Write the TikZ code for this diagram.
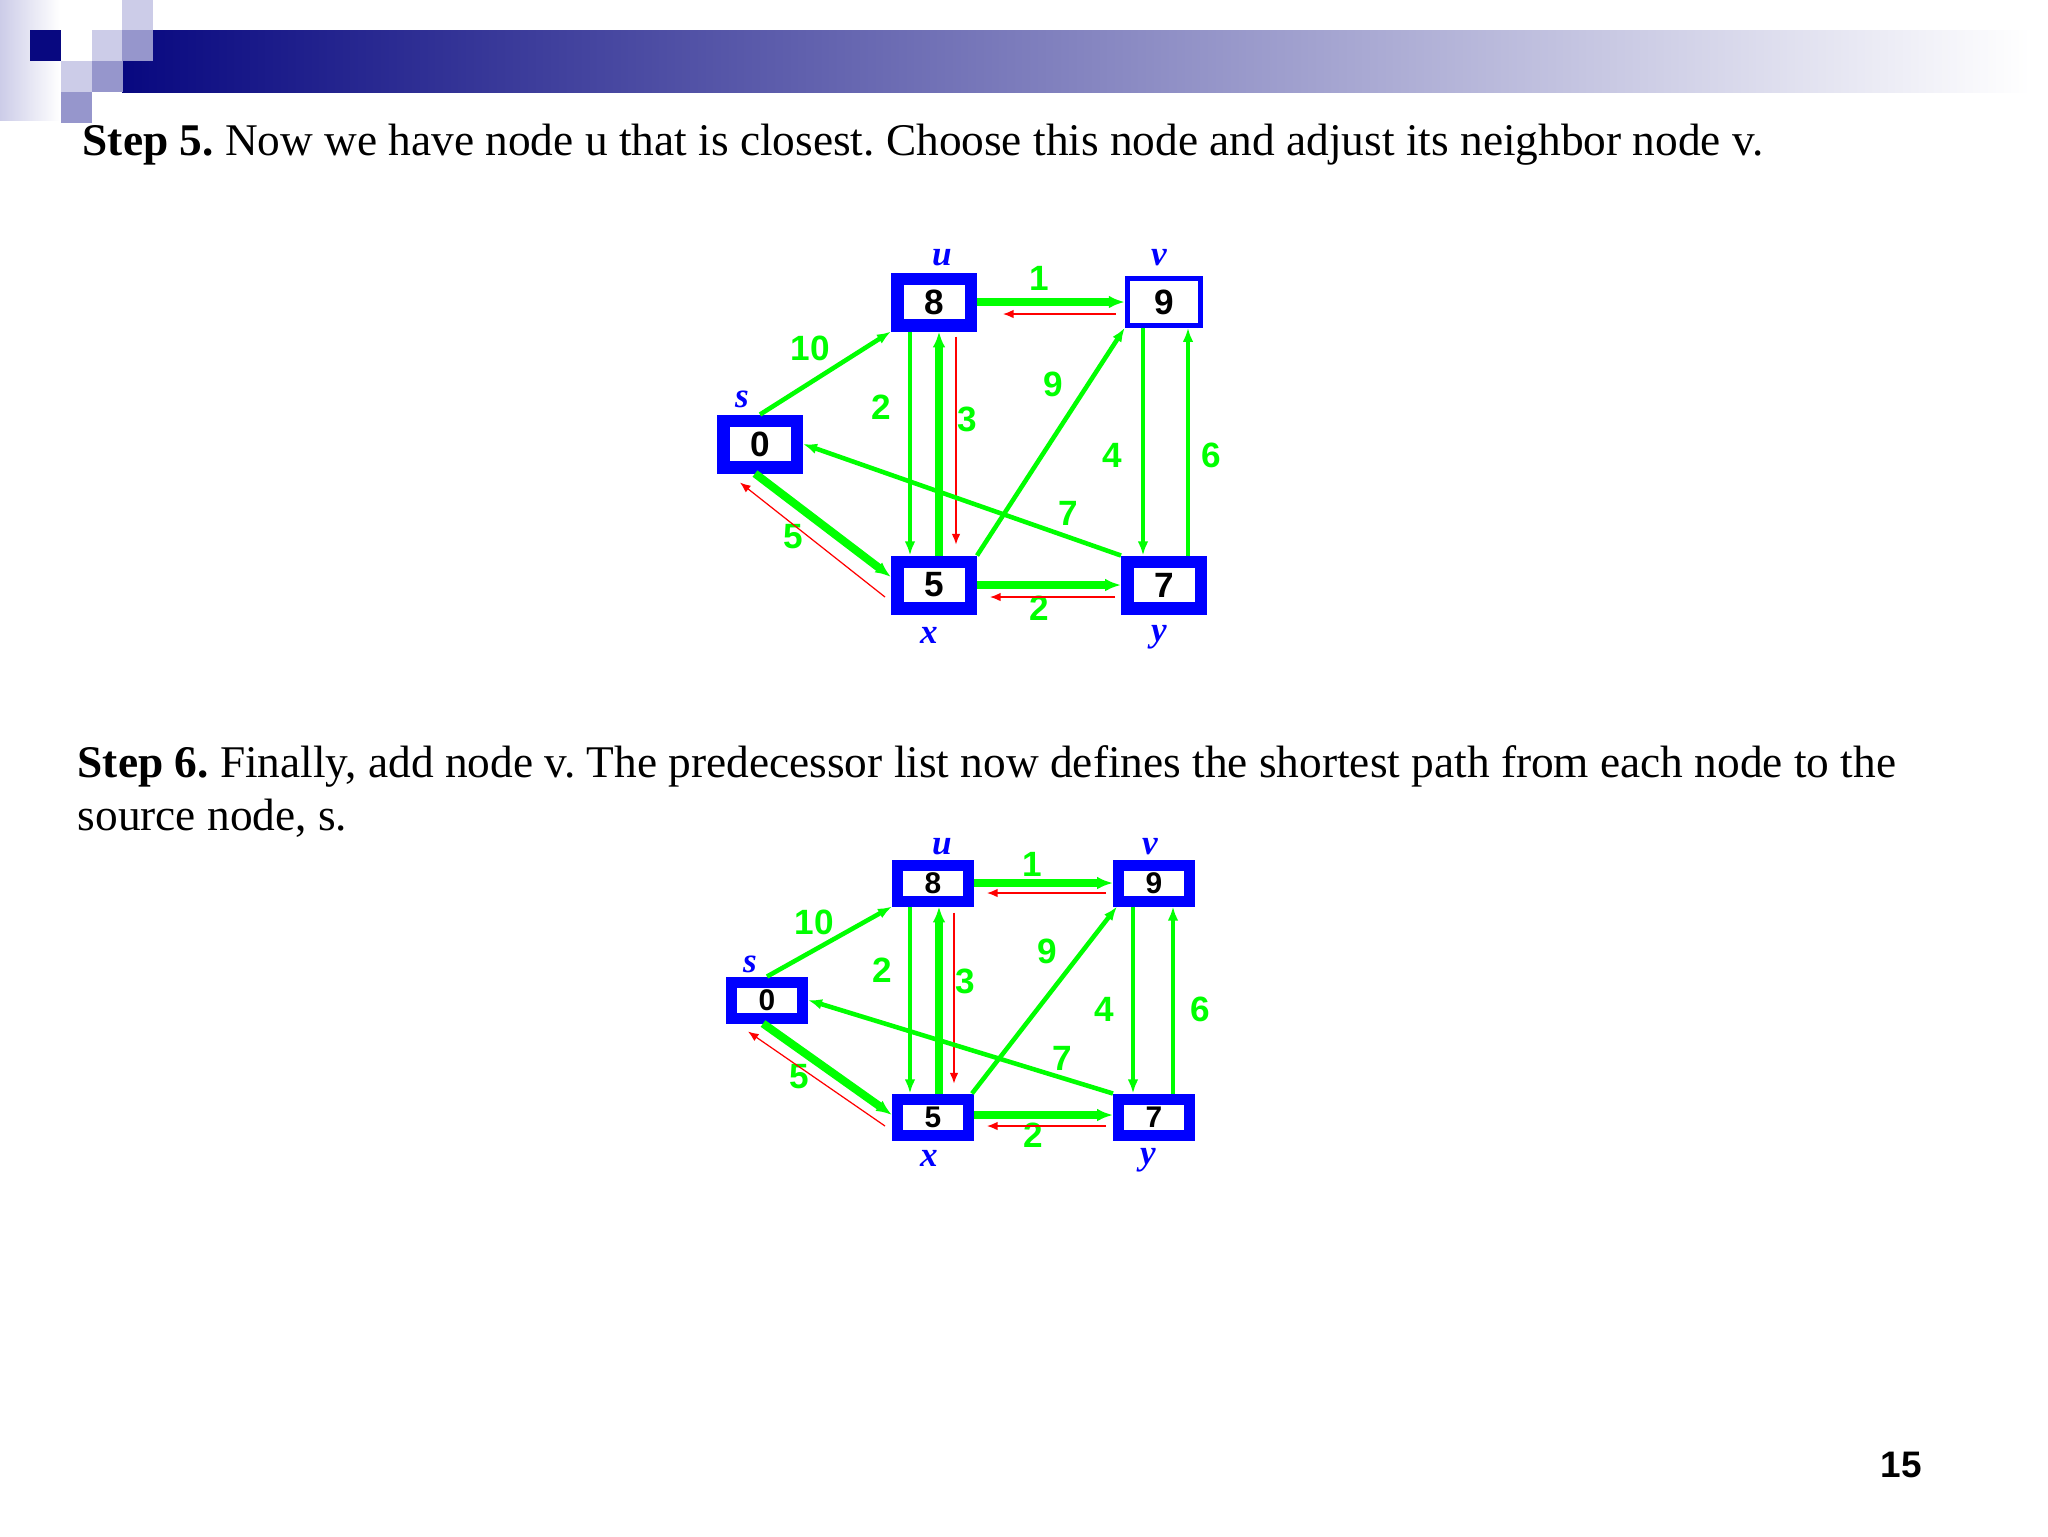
\documentclass[tikz,border=0pt]{standalone}
\usepackage{fontspec}
\setmainfont{Liberation Serif}
\setsansfont{Liberation Sans}
\usepackage{tikz}
\usetikzlibrary{arrows.meta,calc}
\definecolor{navy}{RGB}{8,8,128}
\definecolor{lav}{RGB}{204,204,232}
\definecolor{midlav}{RGB}{150,150,204}
\definecolor{edgegreen}{RGB}{0,255,0}
\definecolor{boxblue}{RGB}{0,0,255}
\definecolor{predred}{RGB}{255,0,0}
\newcommand{\stepfont}{\fontsize{12.9}{16}\selectfont}
\frenchspacing

\begin{document}
\begin{tikzpicture}[x=0.1mm,y=-0.1mm,
  box/.style={draw=boxblue,fill=white,line width=1.25mm,minimum width=7.35mm,minimum height=4.65mm,inner sep=0pt,font=\sffamily\bfseries\fontsize{10}{10}\selectfont},
  boxb/.style={box,line width=1.1mm,minimum width=7.1mm,minimum height=3.6mm,font=\sffamily\bfseries\fontsize{8.5}{9}\selectfont},
  gm/.style={draw=edgegreen,line width=1.3pt,-{Latex[length=4pt,width=3pt]}},
  gt/.style={draw=edgegreen,line width=2.3pt,-{Latex[length=4.5pt,width=3.6pt]}},
  rd/.style={draw=predred,line width=0.35pt,-{Latex[length=3pt,width=2.4pt]}},
  wt/.style={text=edgegreen,inner sep=0pt,font=\sffamily\bfseries\fontsize{10}{10}\selectfont},
  nm/.style={text=boxblue,inner sep=0pt,font=\bfseries\itshape\fontsize{10}{10}\selectfont},
  stp/.style={anchor=base west,inner sep=0pt,font=\stepfont}]
\useasboundingbox (0,0) rectangle (2048,1536);
% header band
\shade[left color=lav,right color=white] (0,0) rectangle (60,120);
\shade[left color=navy,right color=white] (122,30) rectangle (2030,92);
\foreach \cx/\cy/\cc in {30/30/navy,122/0/lav,92/30/lav,122/30/midlav,61/61/lav,92/61/midlav,61/92/midlav}
  \fill[\cc] (\cx,\cy) rectangle ++(31,31);
% step 5
\node[stp] (step5) at (82,155) {\textbf{Step 5.} Now we have node u that is closest. Choose this node and adjust its neighbor node v.};
\node[box] (s1) at (760,444) {0};
\node[box] (u1) at (934,302) {8};
\node[box,line width=0.5mm] (v1) at (1164,302) {9};
\node[box] (x1) at (934,585) {5};
\node[box] (y1) at (1164,585) {7};
\foreach \t/\xx/\yy in {s/742/399,u/942/258,v/1159/258,x/929/635,y/1159/637}
  \node[nm] (n\t1) at (\xx,\yy) {\t};
\foreach \k/\t/\xx/\yy in {a/10/810/348,b/2/881/407,c/3/967/419,d/1/1039/278,e/9/1053/384,f/4/1112/455,g/6/1211/455,h/7/1068/513,i/5/793/537,j/2/1039/608}
  \node[wt] (w\k1) at (\xx,\yy) {\t};
\draw[gm] (s1.north) -- (u1.south west);
\draw[gm] ($(u1.south)+(-24,0)$) -- ($(x1.north)+(-24,0)$);
\draw[gt] ($(x1.north)+(5,0)$) -- ($(u1.south)+(5,0)$);
\draw[rd] ($(u1.south)+(22,5)$) -- ($(x1.north)+(22,-11)$);
\draw[gt] (u1.east) -- (v1.west);
\draw[rd] ($(v1.west)+(-9,12)$) -- ($(u1.east)+(26,12)$);
\draw[gm] (x1.north east) -- (v1.south west);
\draw[gm] ($(v1.south)+(-21,0)$) -- ($(y1.north)+(-21,0)$);
\draw[gm] ($(y1.north)+(24,0)$) -- ($(v1.south)+(24,0)$);
\draw[gm] (y1.north west) -- (s1.east);
\draw[gt] ($(s1.south)+(-5,0)$) -- ($(x1.west)+(0,-8)$);
\draw[rd] ($(x1.west)+(-6,12)$) -- ($(s1.south)+(-20,9)$);
\draw[gt] (x1.east) -- (y1.west);
\draw[rd] ($(y1.west)+(-6,12)$) -- ($(x1.east)+(13,12)$);
% step 6
\node[stp] (step6) at (77,777) {\textbf{Step 6.} Finally, add node v. The predecessor list now defines the shortest path from each node to the};
\node[stp] (step6b) at (77,830) {source node, s.};
\node[boxb] (s2) at (767,1000) {0};
\node[boxb] (u2) at (933,883) {8};
\node[boxb] (v2) at (1154,883) {9};
\node[boxb] (x2) at (933,1117) {5};
\node[boxb] (y2) at (1154,1117) {7};
\foreach \t/\xx/\yy in {s/750/964,u/942/847,v/1150/847,x/929/1158,y/1148/1160}
  \node[nm] (n\t2) at (\xx,\yy) {\t};
\foreach \k/\t/\xx/\yy in {a/10/814/922,b/2/882/970,c/3/965/981,d/1/1032/864,e/9/1047/951,f/4/1104/1009,g/6/1200/1009,h/7/1062/1058,i/5/799/1077,j/2/1033/1135}
  \node[wt] (w\k2) at (\xx,\yy) {\t};
\draw[gm] (s2.north) -- (u2.south west);
\draw[gm] ($(u2.south)+(-23,0)$) -- ($(x2.north)+(-23,0)$);
\draw[gt] ($(x2.north)+(6,0)$) -- ($(u2.south)+(6,0)$);
\draw[rd] ($(u2.south)+(21,6)$) -- ($(x2.north)+(21,-10)$);
\draw[gt] (u2.east) -- (v2.west);
\draw[rd] ($(v2.west)+(-7,10)$) -- ($(u2.east)+(13,10)$);
\draw[gm] ($(x2.north east)+(-2,0)$) -- ($(v2.south west)+(4,0)$);
\draw[gm] ($(v2.south)+(-21,0)$) -- ($(y2.north)+(-21,0)$);
\draw[gm] ($(y2.north)+(19,0)$) -- ($(v2.south)+(19,0)$);
\draw[gm] (y2.north west) -- (s2.east);
\draw[gt] ($(s2.south)+(-4,0)$) -- ($(x2.west)+(0,-2)$);
\draw[rd] ($(x2.west)+(-7,9)$) -- ($(s2.south)+(-19,8)$);
\draw[gt] ($(x2.east)+(0,-2)$) -- ($(y2.west)+(0,-2)$);
\draw[rd] ($(y2.west)+(-7,9)$) -- ($(x2.east)+(13,9)$);
% page number
\node[font=\sffamily\bfseries\fontsize{10.5}{12}\selectfont] (pageno) at (1901,1465) {15};
\end{tikzpicture}
\end{document}
